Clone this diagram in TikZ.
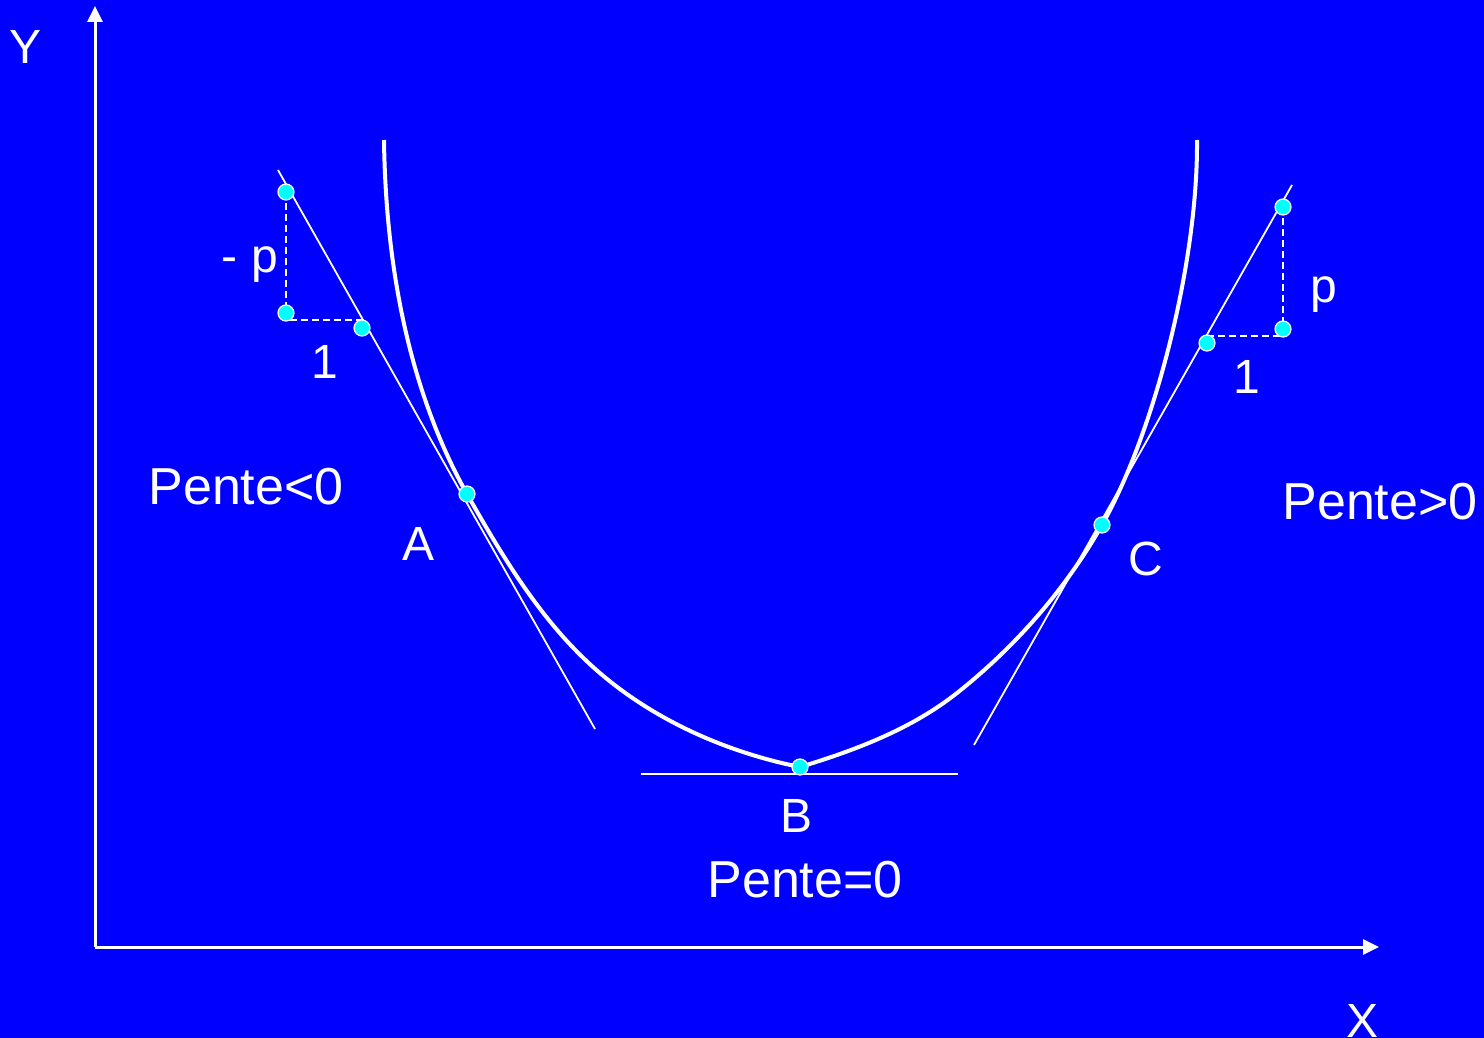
\documentclass[tikz,border=0pt]{standalone}
\usepackage{fontspec}
\setmainfont{Liberation Sans}
\usetikzlibrary{arrows.meta}
\definecolor{bg}{RGB}{0,0,255}
\definecolor{dotc}{RGB}{0,255,255}
\begin{document}
\begin{tikzpicture}[x=1pt,y=-1pt,
  axis/.style={white, line width=3pt, -{Triangle[length=16pt,width=15pt]}},
  curve/.style={white, line width=4pt},
  tang/.style={white, line width=1.8pt},
  helper/.style={white, line width=1.8pt, dash pattern=on 7pt off 4pt},
  pt/.style={circle, fill=dotc, draw=white, line width=1.2pt, minimum size=16pt, inner sep=0pt},
  lbl/.style={text=white, font=\fontsize{48}{56}\selectfont, anchor=base, inner sep=0pt},
  big/.style={text=white, font=\fontsize{52}{60}\selectfont, anchor=base, inner sep=0pt}]
\fill[bg] (0,0) rectangle (1484,1038);
\useasboundingbox (0,0) rectangle (1484,1038);

% axes
\coordinate (O) at (95,947);
\coordinate (ytip) at (95,6);
\coordinate (xtip) at (1379,947);
\draw[axis] (O) -- (ytip);
\draw[axis] (O) -- (xtip);
\node[lbl] (ylab) at (26,64) {Y};
\node[lbl] (xlab) at (1362,1037) {X};

% curve
\coordinate (Cs) at (384,140);
\coordinate (Pa) at (467,494);
\coordinate (M1) at (593,667);
\coordinate (Pb) at (800,767);
\coordinate (M2) at (957,693);
\coordinate (Pc) at (1102,525);
\coordinate (Ce) at (1197,140);
\draw[curve] (Cs) .. controls (386,290) and (418,407) .. (Pa)
  .. controls (502,555.8) and (540.2,619.5) .. (M1)
  .. controls (650.2,718.5) and (724.5,751.9) .. (Pb)
  .. controls (855.5,750.2) and (911.5,729) .. (M2)
  .. controls (1015,647.1) and (1065.5,589.4) .. (Pc)
  .. controls (1156,429) and (1198,260) .. (Ce);

% tangent lines
\coordinate (LT1) at (278,170);
\coordinate (LT2) at (595,729);
\coordinate (RT1) at (1292,185);
\coordinate (RT2) at (974,745);
\coordinate (BT1) at (641,774);
\coordinate (BT2) at (958,774);
\draw[tang] (LT1) -- (LT2);
\draw[tang] (RT1) -- (RT2);
\draw[tang] (BT1) -- (BT2);

% slope triangles
\coordinate (Lc) at (286,320);
\coordinate (Ltop) at (286,192);
\coordinate (Lright) at (362,320);
\draw[helper] (Ltop) -- (Lc) -- (Lright);
\coordinate (Rc) at (1283,336);
\coordinate (Rtop) at (1283,207);
\coordinate (Rleft) at (1207,336);
\draw[helper] (Rtop) -- (Rc) -- (Rleft);

% dots
\node[pt] (dL1) at (286,192) {};
\node[pt] (dL2) at (286,313) {};
\node[pt] (dL3) at (362,328) {};
\node[pt] (dR1) at (1283,207) {};
\node[pt] (dR2) at (1283,329) {};
\node[pt] (dR3) at (1207,343) {};
\node[pt] (A) at (Pa) {};
\node[pt] (B) at (Pb) {};
\node[pt] (C) at (Pc) {};

% labels
\node[lbl] (mp) at (250,272) {- p};
\node[lbl] (one1) at (325,378) {1};
\node[lbl] (pp) at (1324,302) {p};
\node[lbl] (one2) at (1247,393) {1};
\node[lbl] (Alab) at (419,560) {A};
\node[lbl] (Blab) at (797,832) {B};
\node[lbl] (Clab) at (1146,575) {C};
\node[big] (neg) at (246,504) {Pente<0};
\node[big] (pos) at (1380,519) {Pente>0};
\node[big] (zero) at (805,897) {Pente=0};
\end{tikzpicture}
\end{document}
